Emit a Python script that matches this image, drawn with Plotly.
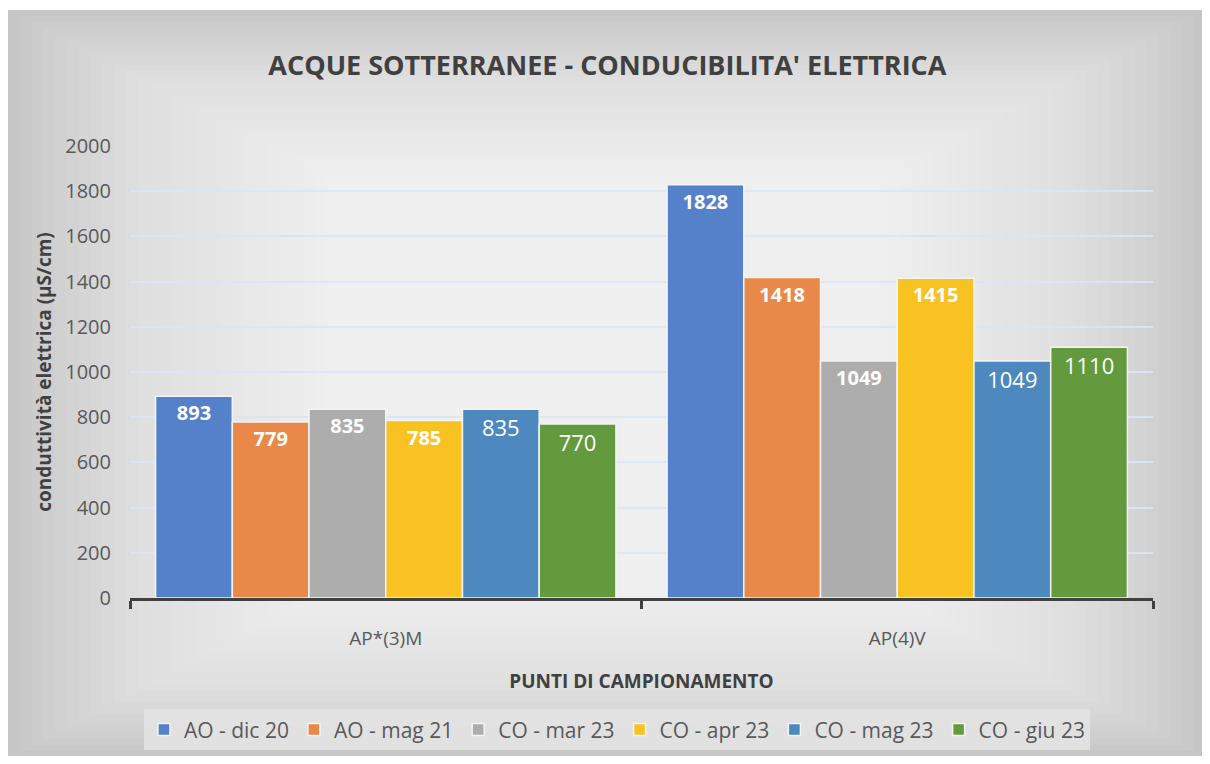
import plotly.graph_objects as go

# dati
punti = ["AP*(3)M", "AP(4)V"]
campagne = ["AO - dic 20", "AO - mag 21", "CO - mar 23", "CO - apr 23", "CO - mag 23", "CO - giu 23"]
ao_dic20 = [893, 1828]
ao_mag21 = [779, 1418]
co_mar23 = [835, 1049]
co_apr23 = [785, 1415]
co_mag23 = [835, 1049]
co_giu23 = [770, 1110]
valori = [ao_dic20, ao_mag21, co_mar23, co_apr23, co_mag23, co_giu23]

colori = ["#5580CA", "#E98949", "#ADADAD", "#F8C322", "#4D88BE", "#629A3D"]
grassetto = [True, True, True, True, False, False]

fig = go.Figure()

for nome, v, c, b in zip(campagne, valori, colori, grassetto):
    fig.add_trace(go.Bar(
        x=punti, y=v, name=nome,
        marker=dict(color=c, line=dict(color="#F4F4F4", width=1.5)),
        text=[("<b>%d</b>" % n) if b else str(n) for n in v],
        textposition="inside", insidetextanchor="end",
        textangle=0,
        textfont=dict(color="white", size=20 if b else 22,
                      family="Open Sans"),
        cliponaxis=False,
    ))

# sfondo sfumato (stile Excel)
shapes = []
x0, x1, y0, y1 = -0.1193, 1.0508, -0.3518, 1.3009
shapes.append(dict(type="rect", xref="paper", yref="paper", x0=x0, x1=x1, y0=y0, y1=y1,
                   fillcolor="#C6C6C6", line=dict(width=0), layer="below"))
for i in range(1, 50):
    dx = 0.0115 * i
    dy = 0.0135 * i
    shapes.append(dict(type="rect", xref="paper", yref="paper",
                       x0=x0 + dx, x1=x1 - dx, y0=y0 + dy, y1=y1 - dy,
                       fillcolor="white", opacity=0.06, line=dict(width=0), layer="below"))

fig.update_layout(
    width=1194, height=748,
    paper_bgcolor="white",
    plot_bgcolor="rgba(0,0,0,0)",
    shapes=shapes,
    barmode="group",
    bargap=0.10,
    bargroupgap=0,
    margin=dict(l=122, r=49, t=138, b=158),
    font=dict(family="Open Sans", color="#595959"),
    title=dict(text="<b>ACQUE SOTTERRANEE - CONDUCIBILITA' ELETTRICA</b>",
               x=0.502, xanchor="center", y=0.923, yanchor="middle",
               font=dict(family="Open Sans", size=27, color="#404040")),
    legend=dict(orientation="h", xref="container", yref="container",
                x=0.51, xanchor="center", y=0.035, yanchor="middle",
                bgcolor="rgba(228,228,228,0.85)",
                font=dict(family="Open Sans", size=21, color="#595959"),
                itemwidth=30, traceorder="normal"),
    showlegend=True,
)

fig.update_yaxes(
    range=[0, 2000], dtick=200, automargin=False,
    showgrid=True, gridcolor="rgba(220,229,245,0.95)", gridwidth=1.5,
    zeroline=False, showline=False,
    tickfont=dict(size=20, color="#595959"),
    ticklabelstandoff=18,
    title=dict(text="<b>conduttività elettrica (µS/cm)</b>",
               font=dict(size=19, color="#404040"), standoff=8),
)

fig.update_xaxes(
    automargin=False,
    showline=True, linecolor="#404040", linewidth=3,
    ticks="outside", tickson="boundaries", ticklen=8, tickwidth=2.5, tickcolor="#404040",
    tickfont=dict(size=19, color="#595959"),
    ticklabelstandoff=21,
    title=dict(text="<b>PUNTI DI CAMPIONAMENTO</b>",
               font=dict(size=19, color="#404040"), standoff=25),
)

fig.write_html("out.html")
